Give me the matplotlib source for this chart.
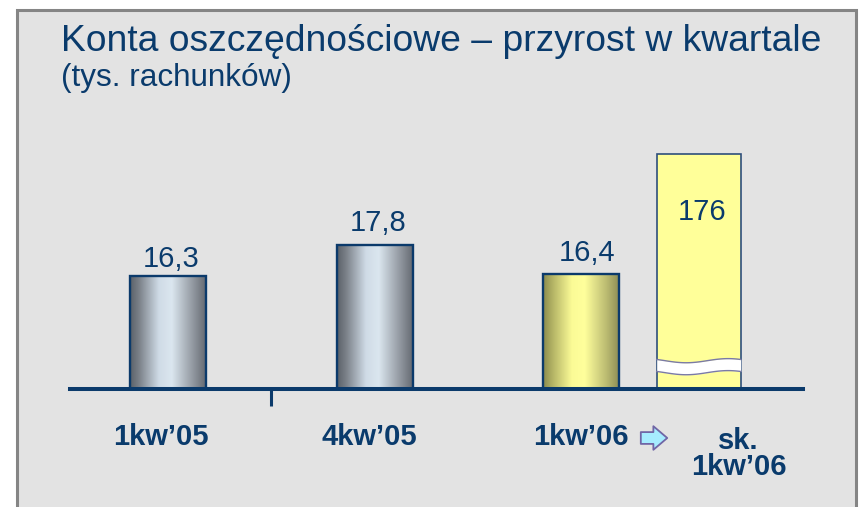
import numpy as np
import matplotlib
matplotlib.use("Agg")
import matplotlib.pyplot as plt
from matplotlib import patches, transforms
from matplotlib.colors import LinearSegmentedColormap

# ---- data ----
categories = ["1kw\u201905", "4kw\u201905", "1kw\u201906", "sk.\n1kw\u201906"]
values = [16.3, 17.8, 16.4, 176]
value_labels = ["16,3", "17,8", "16,4", "176"]
title = "Konta oszczędnościowe \u2013 przyrost w kwartale"
subtitle = "(tys. rachunków)"

# ---- layout / style ----
Y0 = 10.83          # visual baseline of the truncated axis
YTOP = 22.88
BREAK_CAP = 22.2    # drawn height of the broken (off-scale) bar
x_pos = [0, 1, 2, 2.57]
widths = [0.368, 0.368, 0.368, 0.407]
NAVY = "#0b3a6b"
TXT = "#0a3b6c"
PT = 72 / 100  # points per pixel

plt.rcParams['font.family'] = ['Liberation Sans', 'DejaVu Sans']

fig = plt.figure(figsize=(8.59, 5.07), dpi=100)
fig.patch.set_facecolor("white")

# panel
W, H = 859, 507
panel = patches.Rectangle((16.5 / W, -0.1), (855.5 - 16.5) / W, 1.1 - 9.5 / H,
                          transform=fig.transFigure, facecolor="#e3e3e3",
                          edgecolor="#858585", linewidth=2.2, zorder=-5)
fig.patches.append(panel)

fig.text(61 / W, 1 - 51 / H, title, fontsize=26.8, color=TXT, ha="left", va="baseline")
fig.text(61 / W, 1 - 86 / H, subtitle, fontsize=22.7, color=TXT, ha="left", va="baseline")

ax = fig.add_axes([70 / W, (H - 389) / H, 733 / W, (389 - 140) / H])
ax.set_zorder(2)
ax.set_facecolor("none")
for s in ax.spines.values():
    s.set_visible(False)
ax.set_xlim(-0.475, 3.075)
ax.set_ylim(Y0, YTOP)
ax.set_yticks([])
ax.set_xticks([0.5])
ax.tick_params(axis="x", direction="out", length=12, width=2.2, color=NAVY,
               labelbottom=False)

grey_cmap = LinearSegmentedColormap.from_list("g", [
    (0.0, "#5b6169"), (0.12, "#7b8189"), (0.38, "#cfdbe6"), (0.55, "#dbe6ef"),
    (0.85, "#8d939b"), (1.0, "#656a72")])
yel_cmap = LinearSegmentedColormap.from_list("y", [
    (0.0, "#8a8a4e"), (0.12, "#b2b264"), (0.38, "#fbfb96"), (0.55, "#ffff9c"),
    (0.85, "#b8b870"), (1.0, "#8e8e56")])
grad = np.linspace(0, 1, 256)[None, :]

drawn = [min(v, BREAK_CAP) for v in values]
bars = ax.bar(x_pos, [d - Y0 for d in drawn], bottom=Y0, width=widths, zorder=2)

for i, b in enumerate(bars):
    x0, w, h = b.get_x(), b.get_width(), b.get_height()
    if i < 3:
        cmap = grey_cmap if i < 2 else yel_cmap
        b.set_facecolor("none")
        b.set_edgecolor(NAVY)
        b.set_linewidth(1.7)
        b.set_zorder(3)
        im = ax.imshow(grad, cmap=cmap, extent=[x0, x0 + w, Y0, Y0 + h],
                       aspect="auto", interpolation="bilinear", zorder=2)
        im.set_clip_path(b)
    else:
        b.set_facecolor("#ffff99")
        b.set_edgecolor("#2e4f7c")
        b.set_linewidth(1.2)
        # break marker
        xs = np.linspace(x0, x0 + w, 60)
        t = (xs - x0) / w
        wave = -0.1 * np.sin(2 * np.pi * (t - 0.1))
        lo = 11.62 + wave
        hi = 12.2 + wave
        ax.fill_between(xs, lo, hi, color="white", zorder=4, linewidth=0)
        ax.plot(xs, lo, color="#7a7aa6", lw=1.0, zorder=5)
        ax.plot(xs, hi, color="#7a7aa6", lw=1.0, zorder=5)

ax.set_xlim(-0.475, 3.075)
ax.set_ylim(Y0, YTOP)

# baseline
ax.axhline(Y0, color=NAVY, lw=2.9, zorder=6, clip_on=False)

# value labels (offsets in pixels)
val_dx = [3, 4, 6, 3]
val_dy = [17, 22, 21, -58]
for i, (xp, d, lab) in enumerate(zip(x_pos, drawn, value_labels)):
    ax.annotate(lab, (xp, d), xytext=(val_dx[i] * PT, val_dy[i] * PT),
                textcoords="offset points", ha="center", va="center",
                fontsize=21, color=TXT)

# category labels
cat_dx = [-7, -5, 0, 40]
cat_dy = [-48, -48, -48, -65]
for i, (xp, lab) in enumerate(zip(x_pos, categories)):
    ax.annotate(lab, (xp, Y0), xytext=(cat_dx[i] * PT, cat_dy[i] * PT),
                textcoords="offset points", ha="center", va="center",
                fontsize=21, fontweight="bold", color=TXT,
                linespacing=0.88, annotation_clip=False)

# arrow after 1kw'06
fig.canvas.draw()
px = ax.transData.transform((x_pos[2], Y0))
arr = patches.FancyArrowPatch(
    (px[0] + 57, px[1] - 49), (px[0] + 89, px[1] - 49),
    transform=transforms.IdentityTransform(),
    arrowstyle="simple,head_length=10,head_width=17,tail_width=8.5",
    mutation_scale=1, facecolor="#a6ecff", edgecolor="#7066a6", linewidth=1.3,
    zorder=7)
fig.patches.append(arr)

fig.savefig("out.png", dpi=100)
